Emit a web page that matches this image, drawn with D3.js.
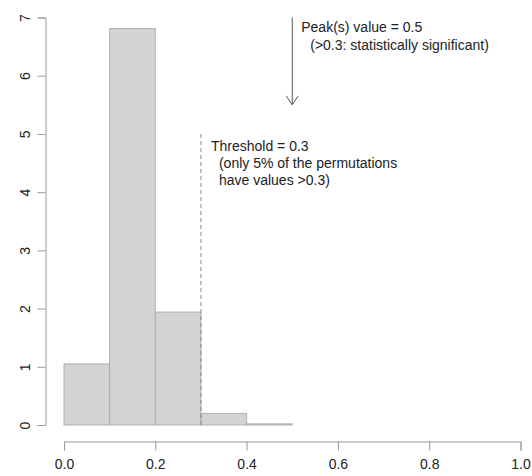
<!DOCTYPE html>
<html>
<head>
<meta charset="utf-8">
<script src="https://cdn.jsdelivr.net/npm/d3@7"></script>
<style>
  body { margin: 0; background: #fff; }
  svg text { font-family: "Liberation Sans", Arial, sans-serif; fill: #222; }
</style>
</head>
<body>
<svg id="chart" width="532" height="476"></svg>
<script>
// histogram bins (left edges, width 0.1) and densities
const binStarts = [0.0, 0.1, 0.2, 0.3, 0.4, 0.5, 0.6, 0.7, 0.8, 0.9];
const densities = [1.05, 6.81, 1.94, 0.2, 0.02, 0, 0, 0, 0, 0];
const binWidth = 0.1;
const xTicks = [0.0, 0.2, 0.4, 0.6, 0.8, 1.0];
const yTicks = [0, 1, 2, 3, 4, 5, 6, 7];
const threshold = 0.3;
const thresholdTop = 5;
const peak = 0.5;
const peakTop = 7;
const peakBottom = 5.5;
const thresholdLabel = ["Threshold = 0.3", "(only 5% of the permutations", "have values >0.3)"];
const peakLabel = ["Peak(s) value = 0.5", "(>0.3: statistically significant)"];

const svg = d3.select("svg#chart");
const x = d3.scaleLinear().domain([0, 1]).range([64, 520.5]);
const y = d3.scaleLinear().domain([0, 7]).range([425, 17.5]);
const axisColor = "#9a9a9a";
const fontSize = 14;

// bars
svg.append("g")
    .selectAll("rect")
    .data(binStarts)
    .join("rect")
    .attr("x", (d) => x(d))
    .attr("y", (d, i) => y(densities[i]))
    .attr("width", (d) => x(d + binWidth) - x(d))
    .attr("height", (d, i) => y(0) - y(densities[i]))
    .attr("fill", "#d3d3d3")
    .attr("stroke", (d, i) => densities[i] > 0 ? "#b0b0b0" : "#dcdcdc")
    .attr("stroke-width", 1);

// x axis
const xAxis = svg.append("g")
    .attr("transform", "translate(0," + 441.5 + ")")
    .call(d3.axisBottom(x).tickValues(xTicks).tickFormat(d3.format(".1f"))
        .tickSize(9).tickPadding(9));
xAxis.select(".domain").attr("stroke", axisColor);
xAxis.selectAll(".tick line").attr("stroke", axisColor);
xAxis.selectAll("text").attr("font-size", fontSize).attr("fill", "#222");

// y axis
const yAxis = svg.append("g")
    .attr("transform", "translate(" + 45.5 + ",0)")
    .call(d3.axisLeft(y).tickValues(yTicks).tickFormat(d3.format("d"))
        .tickSizeOuter(0).tickSize(8));
yAxis.select(".domain").attr("stroke", axisColor);
yAxis.selectAll(".tick line").attr("stroke", axisColor);
yAxis.selectAll("text")
    .attr("font-size", fontSize)
    .attr("fill", "#222")
    .attr("text-anchor", "middle")
    .attr("dy", 0)
    .attr("x", 0)
    .attr("transform", "translate(-21,0) rotate(-90)")
    .attr("dominant-baseline", "central");

// threshold line
svg.append("line")
    .attr("x1", x(threshold)).attr("x2", x(threshold))
    .attr("y1", y(0)).attr("y2", y(thresholdTop))
    .attr("stroke", "#888")
    .attr("stroke-dasharray", "4,3")
    .attr("stroke-width", 1);

svg.append("text")
    .attr("font-size", fontSize)
    .selectAll("tspan")
    .data(thresholdLabel)
    .join("tspan")
    .attr("x", (d, i) => x(threshold) + (i == 0 ? 10 : 18))
    .attr("y", (d, i) => y(thresholdTop) + 17 + i * 17)
    .text((d) => d);

// peak arrow
svg.append("line")
    .attr("x1", x(peak)).attr("x2", x(peak))
    .attr("y1", y(peakTop)).attr("y2", y(peakBottom))
    .attr("stroke", "#555");
svg.append("path")
    .attr("d", d3.line()([[x(peak) - 6, y(peakBottom) - 9],
      [x(peak), y(peakBottom)], [x(peak) + 6, y(peakBottom) - 9]]))
    .attr("fill", "none")
    .attr("stroke", "#555");

svg.append("text")
    .attr("font-size", fontSize)
    .selectAll("tspan")
    .data(peakLabel)
    .join("tspan")
    .attr("x", (d, i) => x(peak) + (i == 0 ? 9 : 18))
    .attr("y", (d, i) => y(peakTop) + 14 + i * 18)
    .text((d) => d);
</script>
</body>
</html>
